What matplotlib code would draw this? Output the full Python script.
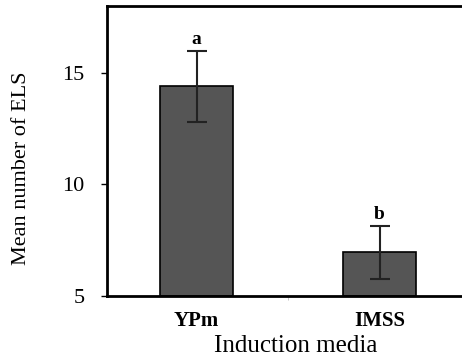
import numpy as np
import matplotlib.pyplot as plt

#----- Data -----#

media = ["YPm", "IMSS"]
mean_els = [14.4, 6.95]
err_els = [1.6, 1.2]
letters = ["a", "b"]

#----- Plot -----#

plt.rcParams['font.family'] = ['Liberation Serif', 'DejaVu Serif']

fig = plt.figure(figsize=(4.62, 3.6), dpi=100)
ax = fig.add_axes([0.2316, 0.178, 0.7684, 0.805])

xs = np.arange(len(media))
ax.bar(xs, np.array(mean_els) - 5, bottom=5, width=0.4,
       color="#555555", edgecolor="black", linewidth=1.2)
ax.errorbar(xs, mean_els, yerr=err_els, fmt="none", ecolor="#222222",
            elinewidth=1.5, capsize=7, capthick=1.5)

for x, m, e, lab in zip(xs, mean_els, err_els, letters):
    ax.text(x, m + e + 0.1, lab, ha="center", va="bottom",
            fontsize=14, fontweight="bold")

ax.set_xlim(-0.489, 1.45)
ax.set_ylim(5, 18)
ax.set_yticks([5, 10, 15])
ax.set_xticks(xs)
ax.set_xticklabels(media, fontsize=15, fontweight="bold")
ax.set_xticks([0.5], minor=True)
ax.tick_params(axis="x", length=0, pad=11)
ax.tick_params(axis="x", which="minor", length=3, color="#bbbbbb")
ax.tick_params(axis="y", labelsize=16, length=4, width=1, pad=12)

ax.set_ylabel("Mean number of ELS", fontsize=16)
ax.yaxis.set_label_coords(-0.215, 0.44)
ax.set_xlabel("Induction media", fontsize=18)
ax.xaxis.set_label_coords(0.532, -0.135)

for side in ["left", "bottom", "top"]:
    ax.spines[side].set_linewidth(2)
ax.spines["right"].set_visible(False)

fig.savefig("out.png", dpi=100)
